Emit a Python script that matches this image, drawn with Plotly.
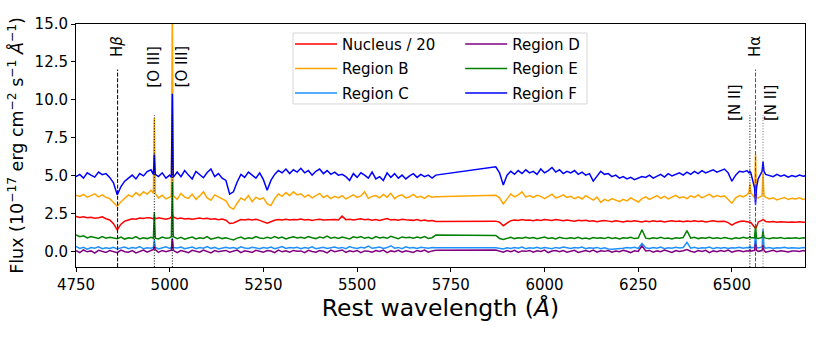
import plotly.graph_objects as go
import numpy as np

# wavelength sampling (Angstrom): blue part, then red part after the masked gap
wave_a = np.arange(4750, 5711, 10)
wave_b = np.arange(5870, 6701, 10)
wave = np.concatenate([wave_a, wave_b])

# emission lines that are added on top of the continuum samples
line_wave = [4959, 5007, 6548, 6563, 6583]

# Nucleus / 20
nucleus = [
    2.32, 2.26, 2.30, 2.24, 2.27, 2.21, 2.25, 2.30, 2.18, 2.10,
    1.85, 1.45, 1.82, 2.02, 2.10, 2.18, 2.14, 2.22, 2.19, 2.25,
    2.22, 2.17, 2.24, 2.20, 2.15, 2.21, 2.30, 2.18, 2.22, 2.16,
    2.20, 2.14, 2.19, 2.23, 2.17, 2.21, 2.15, 2.18, 2.12, 2.16,
    2.08, 1.86, 1.90, 2.02, 2.12, 2.09, 2.15, 2.10, 2.14, 2.07,
    2.00, 1.88, 1.98, 2.08, 2.12, 2.10, 2.15, 2.09, 2.13, 2.11,
    2.16, 2.10, 2.13, 2.07, 2.12, 2.15, 2.09, 2.11, 2.08, 2.13,
    2.10, 2.35, 2.12, 2.15, 2.09, 2.13, 2.18, 2.11, 2.14, 2.08,
    2.12, 2.06, 2.15, 2.19, 2.10, 2.13, 2.08, 2.14, 2.11, 2.09,
    2.07, 2.12, 2.05, 2.09, 2.03, 2.06, 2.00,
    2.02, 1.95, 1.72, 1.90, 2.05, 2.10, 2.06, 2.12, 2.08, 2.10,
    2.05, 2.11, 2.07, 2.13, 2.09, 2.06, 2.12, 2.08, 2.04, 2.10,
    2.06, 2.02, 2.08, 2.04, 2.07, 2.01, 2.05, 1.98, 2.03, 2.06,
    2.02, 1.98, 2.04, 2.00, 1.96, 2.03, 1.99, 2.05, 2.01, 1.97,
    2.02, 1.98, 2.04, 2.00, 2.03, 1.97, 2.01, 2.05, 1.99, 2.02,
    1.98, 2.03, 2.00, 2.04, 1.99, 2.02, 1.97, 2.01, 2.04, 2.00,
    1.98, 2.01, 1.92, 1.76, 1.90, 2.00, 2.02, 1.98, 1.93, 1.62,
    1.95, 2.08, 2.00, 1.97, 1.99, 1.95, 1.98, 1.96, 1.94, 1.97,
    1.95, 1.98, 1.94, 1.96,
]
nucleus_lines = [2.30, 2.45, 1.90, 1.55, 2.12]

region_b = [
    3.72, 3.65, 3.78, 3.60, 3.70, 3.82, 3.62, 3.75, 3.58, 3.50,
    3.25, 3.00, 3.30, 3.55, 3.75, 3.62, 3.90, 3.70, 3.95, 3.80,
    4.05, 3.85, 3.55, 3.72, 3.48, 3.60, 3.70, 3.45, 3.85, 3.60,
    3.52, 3.80, 3.45, 3.68, 3.95, 3.55, 3.40, 3.75, 3.62, 3.50,
    3.35, 2.95, 2.80, 3.20, 3.55, 3.40, 3.70, 3.30, 3.60, 3.45,
    3.55, 3.15, 3.05, 3.50, 3.80, 3.65, 3.90, 3.70, 3.95, 3.75,
    3.82, 3.60, 3.75, 3.55, 3.70, 3.85, 3.58, 3.72, 3.50, 3.65,
    3.55, 3.70, 3.48, 3.62, 3.75, 3.58, 3.68, 3.95, 3.52, 3.65,
    3.70, 3.55, 3.78, 3.60, 3.85, 3.50, 3.68, 3.75, 3.55, 3.62,
    3.78, 3.58, 3.65, 3.52, 3.70, 3.60, 3.62,
    3.72, 3.55, 3.15, 3.45, 3.80, 3.62, 3.75, 3.95, 3.60, 3.70,
    3.58, 3.72, 3.65, 3.50, 3.68, 3.80, 3.55, 3.62, 3.75, 3.58,
    3.65, 3.50, 3.62, 3.48, 3.70, 3.55, 3.40, 3.60, 3.25, 3.45,
    3.35, 3.50, 3.38, 3.30, 3.45, 3.35, 3.55, 3.42, 3.28, 3.50,
    3.62, 3.45, 3.58, 3.70, 3.52, 3.65, 3.48, 3.60, 3.72, 3.55,
    3.62, 3.50, 3.68, 3.58, 3.75, 3.55, 3.65, 3.80, 3.60, 3.70,
    3.62, 3.68, 3.45, 3.20, 3.55, 3.70, 3.62, 3.75, 3.90, 3.55,
    3.55, 3.70, 3.60, 3.48, 3.55, 3.42, 3.50, 3.58, 3.45, 3.52,
    3.48, 3.55, 3.45, 3.50,
]
region_b_lines = [8.8, 16.5, 4.5, 6.4, 5.2]

region_c = [
    0.35, 0.22, 0.30, 0.18, 0.28, 0.24, 0.33, 0.20, 0.27, 0.22,
    0.30, 0.19, 0.26, 0.32, 0.21, 0.28, 0.24, 0.35, 0.20, 0.27,
    0.23, 0.30, 0.19, 0.27, 0.33, 0.22, 0.28, 0.25, 0.31, 0.20,
    0.26, 0.32, 0.21, 0.28, 0.24, 0.35, 0.22, 0.29, 0.19, 0.27,
    0.30, 0.23, 0.28, 0.20, 0.33, 0.25, 0.22, 0.30, 0.26, 0.21,
    0.28, 0.24, 0.31, 0.20, 0.27, 0.34, 0.22, 0.29, 0.25, 0.30,
    0.21, 0.28, 0.24, 0.33, 0.20, 0.27, 0.30, 0.22, 0.26, 0.31,
    0.24, 0.29, 0.21, 0.35, 0.26, 0.22, 0.30, 0.25, 0.38, 0.23,
    0.27, 0.31, 0.22, 0.28, 0.40, 0.24, 0.29, 0.21, 0.33, 0.25,
    0.28, 0.22, 0.30, 0.26, 0.23, 0.29, 0.27,
    0.27, 0.22, 0.18, 0.26, 0.22, 0.29, 0.24, 0.31, 0.21, 0.27,
    0.24, 0.30, 0.22, 0.28, 0.25, 0.20, 0.29, 0.23, 0.32, 0.26,
    0.22, 0.28, 0.25, 0.31, 0.20, 0.27, 0.24, 0.29, 0.21, 0.26,
    0.18, 0.17, 0.19, 0.18, 0.23, 0.29, 0.25, 0.30, 0.22, 0.55,
    0.26, 0.22, 0.29, 0.24, 0.31, 0.20, 0.27, 0.23, 0.30, 0.25,
    0.28, 0.62, 0.24, 0.30, 0.22, 0.27, 0.25, 0.31, 0.21, 0.28,
    0.24, 0.29, 0.22, 0.27, 0.25, 0.30, 0.23, 0.28, 0.26, 0.30,
    0.25, 0.32, 0.24, 0.28, 0.22, 0.27, 0.25, 0.30, 0.23, 0.27,
    0.26, 0.24, 0.28, 0.25,
]
region_c_lines = [0.8, 0.9, 0.4, 1.3, 1.5]

region_d = [
    0.08, -0.05, 0.12, 0.00, 0.06, -0.08, 0.10, 0.02, -0.04, 0.09,
    0.03, -0.06, 0.11, 0.01, -0.03, 0.08, -0.07, 0.05, 0.12, -0.02,
    0.06, 0.15, -0.04, 0.09, 0.00, 0.07, 0.10, -0.05, 0.08, 0.02,
    -0.06, 0.10, 0.03, -0.02, 0.12, 0.05, -0.07, 0.08, 0.01, 0.06,
    0.09, -0.03, 0.04, 0.11, -0.05, 0.07, 0.02, -0.04, 0.10, 0.03,
    -0.02, 0.08, 0.05, -0.06, 0.11, 0.00, 0.07, -0.03, 0.09, 0.04,
    0.06, -0.05, 0.10, 0.02, -0.03, 0.08, 0.04, -0.07, 0.11, 0.01,
    0.05, 0.12, -0.04, 0.07, 0.01, 0.09, -0.06, 0.06, 0.03, -0.02,
    0.08, 0.02, 0.11, -0.05, 0.06, 0.00, 0.10, -0.03, 0.07, 0.04,
    -0.04, 0.09, 0.03, 0.12, -0.02, 0.06, 0.10,
    0.12, 0.05, -0.02, 0.08, 0.01, 0.10, -0.04, 0.06, 0.03, 0.09,
    -0.03, 0.07, 0.02, 0.11, -0.05, 0.05, 0.09, 0.00, 0.08, -0.02,
    0.06, 0.10, -0.04, 0.04, 0.08, 0.01, 0.11, -0.03, 0.07, 0.03,
    0.09, -0.02, 0.05, 0.00, 0.10, 0.04, -0.05, 0.07, 0.02, 0.40,
    0.05, 0.09, -0.03, 0.06, 0.01, 0.11, 0.03, -0.04, 0.08, 0.02,
    0.07, 0.15, 0.04, -0.02, 0.09, 0.03, 0.10, -0.05, 0.06, 0.01,
    0.08, 0.02, 0.11, -0.03, 0.05, 0.09, 0.00, 0.07, 0.04, 0.10,
    0.03, 0.08, -0.02, 0.06, 0.10, 0.01, 0.07, 0.04, -0.01, 0.05,
    0.06, 0.02, 0.08, 0.04,
]
region_d_lines = [0.35, 0.85, 0.15, 0.55, 0.45]

region_e = [
    1.12, 1.00, 1.05, 0.92, 1.00, 0.94, 0.88, 1.00, 0.90, 0.95,
    0.90, 0.86, 0.97, 0.84, 0.93, 0.88, 1.00, 0.85, 0.93, 0.87,
    0.95, 0.90, 0.85, 0.97, 0.89, 0.93, 1.00, 0.87, 0.95, 0.83,
    0.91, 0.97, 0.85, 0.93, 0.88, 1.00, 0.83, 0.90, 0.95, 0.87,
    0.93, 0.85, 0.78, 0.90, 0.97, 0.85, 0.93, 0.88, 1.00, 0.91,
    0.87, 0.95, 0.89, 1.01, 0.90, 0.97, 0.85, 0.93, 0.99, 0.91,
    0.96, 0.89, 1.00, 0.93, 0.87, 0.97, 0.91, 1.03, 0.90, 0.95,
    0.88, 0.97, 0.91, 0.85, 0.99, 0.93, 1.01, 0.89, 0.95, 0.87,
    1.00, 0.91, 0.96, 0.89, 1.02, 0.93, 0.87, 0.98, 0.92, 0.95,
    0.89, 0.97, 0.91, 1.00, 0.88, 0.93, 1.10,
    1.08, 0.88, 0.82, 0.90, 0.95, 0.87, 0.93, 0.89, 0.96, 0.90,
    0.94, 0.86, 0.92, 0.97, 0.88, 0.93, 0.85, 0.95, 0.90, 0.87,
    0.93, 0.88, 0.96, 0.86, 0.91, 0.84, 0.94, 0.89, 0.92, 0.87,
    0.95, 0.88, 0.92, 0.85, 0.93, 0.89, 0.96, 0.87, 0.91, 1.45,
    0.90, 0.86, 0.93, 0.88, 0.95, 0.87, 0.91, 0.85, 0.92, 0.89,
    0.94, 1.40, 0.90, 0.95, 0.87, 0.93, 0.89, 0.96, 0.88, 0.92,
    0.87, 0.94, 0.89, 0.85, 0.92, 0.88, 0.95, 0.90, 0.93, 0.92,
    0.88, 0.95, 0.90, 0.86, 0.93, 0.89, 0.94, 0.87, 0.91, 0.89,
    0.93, 0.88, 0.92, 0.90,
]
region_e_lines = [2.6, 4.6, 1.0, 1.75, 1.35]

region_f = [
    4.95, 5.10, 4.85, 5.20, 5.05, 4.92, 5.25, 5.08, 5.15, 4.90,
    4.55, 3.75, 4.30, 4.65, 4.85, 5.05, 4.80, 5.15, 5.00, 5.28,
    5.40, 5.10, 4.95, 5.20, 4.85, 5.05, 4.90, 5.25, 4.95, 5.35,
    5.05, 4.80, 5.30, 5.10, 4.88, 5.22, 5.45, 4.95, 5.15, 4.85,
    4.70, 3.80, 3.95, 4.60, 5.10, 4.90, 5.25, 5.05, 4.85, 5.20,
    4.75, 4.05, 4.70, 5.10, 5.35, 5.20, 5.45, 5.15, 5.40, 5.25,
    5.50, 5.20, 5.35, 5.05, 5.30, 5.45, 5.15, 5.35, 5.10, 5.25,
    5.05, 5.10, 4.95, 4.70, 5.15, 4.90, 5.20, 5.05, 4.85, 5.25,
    4.80, 4.95, 4.70, 5.20, 4.90, 5.15, 4.85, 5.05, 4.80, 5.00,
    5.15, 4.90, 5.10, 4.95, 5.05, 4.85, 5.05,
    5.60, 5.20, 4.40, 5.05, 5.30, 5.10, 5.35, 5.15, 5.40, 5.20,
    5.30, 5.10, 5.45, 5.20, 5.35, 5.55, 5.25, 5.40, 5.15, 5.30,
    5.20, 5.35, 5.10, 5.25, 5.05, 5.15, 4.65, 5.00, 5.30, 5.10,
    5.15, 4.95, 5.05, 4.85, 4.95, 4.80, 4.90, 4.75, 4.85, 4.95,
    4.90, 5.05, 4.85, 5.00, 5.10, 4.92, 5.15, 5.00, 5.10, 5.20,
    5.05, 5.25, 5.10, 5.30, 5.15, 5.35, 5.20, 5.30, 5.40, 5.25,
    5.35, 5.45, 5.20, 4.65, 5.05, 5.30, 5.25, 5.35, 5.20, 4.20,
    4.80, 5.30, 5.10, 5.05, 4.95, 5.10, 4.98, 5.05, 4.92, 5.02,
    4.95, 5.05, 4.98, 5.02,
]
region_f_lines = [6.4, 10.4, 5.3, 3.1, 5.95]

names = ["Nucleus / 20", "Region B", "Region C", "Region D", "Region E", "Region F"]
colors = ["#ff0000", "#ffa500", "#1e90ff", "#800080", "#008000", "#0000ff"]
spectra = [nucleus, region_b, region_c, region_d, region_e, region_f]
peaks = [nucleus_lines, region_b_lines, region_c_lines, region_d_lines,
         region_e_lines, region_f_lines]

# marked transitions
mark_wave = [4861, 4959, 5007, 6548, 6563, 6583]
mark_top = [12, 9, 9, 9, 12, 9]
mark_dash = ["4px,1.6px", "1px,1.7px", "1px,1.7px", "1px,1.7px", "4px,1.6px", "1px,1.7px"]
mark_color = ["black", "black", "black", "black", "#555555", "#777777"]
label_text = ["H<i>β</i>", "[O III]", "[O III]", "[N II]", "Hα", "[N II]"]
label_x = [4861, 4959, 5033, 6510, 6563, 6604]
label_y = [12.7, 10.7, 10.7, 8.5, 12.7, 8.5]


def add_lines(flux, line_peaks, half=2.5):
    # put each narrow emission line into the sampled spectrum
    pts = [(w, f) for w, f in zip(wave, flux)
           if all(abs(w - lw) > half + 0.5 for lw in line_wave)]
    for lw, pk in zip(line_wave, line_peaks):
        base = flux[int(np.argmin(np.abs(wave - lw)))]
        pts += [(lw - half, base), (lw, pk), (lw + half, base)]
    pts.sort()
    return [p[0] for p in pts], [p[1] for p in pts]


fig = go.Figure()

for i, (name, col, flux, pk) in enumerate(zip(names, colors, spectra, peaks)):
    x, y = add_lines(flux, pk)
    fig.add_trace(go.Scatter(
        x=x, y=y, mode="lines", name=name,
        line=dict(color=col, width=1.5),
        legend="legend" if i < 3 else "legend2",
        legendgroup=name,
    ))

for w, top, dash, col in zip(mark_wave, mark_top, mark_dash, mark_color):
    fig.add_shape(type="line", xref="x", yref="y", x0=w, x1=w, y0=-1, y1=top,
                  line=dict(color=col, width=1, dash=dash), layer="above")

for txt, x, y in zip(label_text, label_x, label_y):
    fig.add_annotation(x=x, y=y, text=txt, textangle=-90, showarrow=False,
                       xanchor="center", yanchor="bottom",
                       font=dict(size=15, color="black"))

# legend frame
fig.add_shape(type="rect", xref="paper", yref="paper",
              x0=0.2977, x1=0.701, y0=0.671, y1=0.963,
              line=dict(color="#d6d6d6", width=1),
              fillcolor="rgba(255,255,255,0.8)", layer="above")

legend_style = dict(
    bgcolor="rgba(0,0,0,0)", borderwidth=0,
    font=dict(family="DejaVu Sans", size=15, color="black"),
    xanchor="left", yanchor="top", tracegroupgap=2, itemwidth=42,
)

fig.update_layout(
    width=830, height=346,
    margin=dict(l=76, r=25, t=24, b=79),
    paper_bgcolor="white", plot_bgcolor="white",
    font=dict(family="DejaVu Sans", color="black"),
    legend=dict(x=0.2936, y=0.985, **legend_style),
    legend2=dict(x=0.527, y=0.985, **legend_style),
    xaxis=dict(
        range=[4750, 6695], tickvals=[4750, 5000, 5250, 5500, 5750, 6000, 6250, 6500],
        ticks="outside", ticklen=4, tickcolor="black", tickfont=dict(size=15),
        showline=True, linecolor="black", linewidth=1, mirror=True,
        showgrid=False, zeroline=False,
        title=dict(text="Rest wavelength (<i>Å</i>)", font=dict(size=23.5), standoff=6),
    ),
    yaxis=dict(
        range=[-1, 15], tickvals=[0, 2.5, 5, 7.5, 10, 12.5, 15], tickformat=".1f",
        ticks="outside", ticklen=4, tickcolor="black", tickfont=dict(size=15),
        showline=True, linecolor="black", linewidth=1, mirror=True,
        showgrid=False, zeroline=False,
        title=dict(text="Flux (10<sup>−17</sup> erg cm<sup>−2</sup> s<sup>−1</sup> <i>Å</i><sup>−1</sup>)",
                   font=dict(size=17.5), standoff=6),
    ),
)

# drop the browser's default page margin so the figure sits at the window corner
fig.write_html("out.html", config={"displayModeBar": False},
               post_script="document.body.style.margin='0px';")
